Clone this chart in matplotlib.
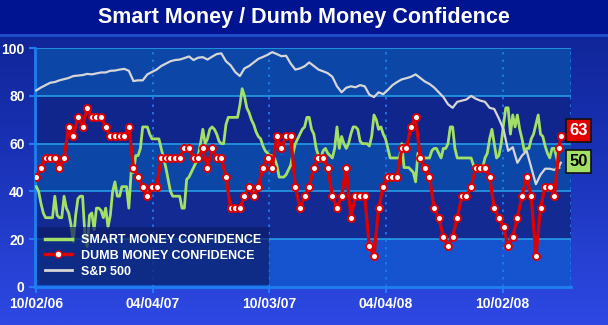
import numpy as np
import matplotlib
matplotlib.use("Agg")
import matplotlib.pyplot as plt
from matplotlib.lines import Line2D
from matplotlib.colors import LinearSegmentedColormap
from matplotlib.patches import Rectangle

plt.rcParams["font.family"] = ["Liberation Sans", "DejaVu Sans"]

# smart money confidence, sampled every half week (2.5 trading days)
smart = [
    42, 40, 35, 31, 29, 29, 29, 29, 38, 30,
    29, 29, 38, 33, 31, 26, 19, 30, 37, 38,
    38, 22, 17, 30, 31, 24, 33, 33, 32, 29,
    33, 25, 30, 40, 44, 38, 38, 42, 42, 42,
    33, 48, 48, 55, 55, 58, 67, 67, 67, 64,
    62, 62, 62, 62, 58, 54, 50, 45, 40, 38,
    38, 38, 38, 33, 33, 45, 46, 48, 50, 52,
    55, 60, 66, 60, 62, 66, 67, 66, 64, 61,
    60, 60, 68, 71, 71, 71, 71, 71, 76, 83,
    80, 75, 73, 70, 68, 65, 63, 62, 59, 57,
    56, 55, 55, 54, 51, 46, 46, 46, 47, 49,
    51, 56, 60, 62, 64, 66, 67, 71, 71, 66,
    64, 58, 55, 54, 57, 58, 56, 55, 54, 58,
    67, 58, 63, 60, 58, 60, 64, 67, 67, 66,
    61, 60, 60, 60, 59, 63, 72, 70, 66, 67,
    64, 62, 58, 54, 54, 54, 54, 54, 60, 50,
    50, 50, 49, 48, 44, 56, 54, 54, 54, 54,
    54, 57, 58, 58, 56, 54, 58, 58, 60, 67,
    67, 58, 54, 54, 54, 54, 54, 54, 54, 51,
    50, 50, 50, 50, 54, 56, 62, 66, 60, 54,
    55, 60, 68, 75, 75, 64, 72, 67, 72, 66,
    62, 57, 58, 58, 62, 64, 68, 72, 64, 63,
    59, 56, 54, 58, 58, 54, 50,
]

# dumb money confidence, weekly readings plus the latest one
dumb = [
    46, 50, 54, 54, 54, 50, 54, 67, 63, 71,
    67, 75, 71, 71, 71, 67, 63, 63, 63, 63,
    67, 50, 46, 42, 38, 42, 42, 54, 54, 54,
    54, 54, 58, 58, 54, 54, 58, 50, 58, 54,
    54, 46, 33, 33, 33, 38, 42, 38, 42, 50,
    54, 50, 63, 58, 63, 63, 42, 33, 38, 42,
    50, 54, 54, 50, 38, 33, 38, 50, 29, 38,
    38, 38, 17, 13, 33, 42, 46, 46, 46, 58,
    58, 67, 71, 54, 50, 46, 33, 29, 21, 17,
    21, 29, 38, 38, 42, 50, 50, 50, 46, 33,
    29, 25, 17, 21, 29, 38, 46, 38, 13, 33,
    42, 42, 38, 58, 63,
]

# S&P 500 rescaled to the 0-100 confidence range, same weekly dates
spx = [
    82.3, 83.5, 84.5, 85.5, 85.8, 86.5, 87.0, 87.5, 88.3, 88.5,
    88.7, 89.2, 89.0, 89.4, 89.8, 89.8, 90.5, 90.6, 91.0, 91.3,
    90.5, 86.2, 86.5, 86.5, 89.0, 90.0, 91.0, 92.5, 93.5, 94.5,
    95.0, 95.2, 95.8, 96.5, 95.0, 96.0, 96.2, 95.2, 96.4, 97.5,
    97.8, 94.5, 92.8, 90.0, 88.3, 91.5, 92.5, 94.0, 95.5, 96.3,
    97.2, 98.3, 97.5, 96.6, 96.8, 93.5, 91.0, 91.5, 92.4, 94.0,
    92.5, 91.0, 90.3, 89.5, 88.0, 84.0, 81.5, 83.4, 84.0, 83.6,
    84.5, 84.0, 80.5, 79.5, 81.5, 80.7, 82.5, 84.5, 85.8, 86.9,
    87.4, 88.0, 89.0, 87.5, 86.0, 85.0, 83.5, 81.5, 79.5, 76.5,
    75.0, 77.5, 78.0, 78.5, 80.0, 78.8, 78.0, 77.5, 75.0, 74.5,
    70.5, 66.0, 57.0, 58.5, 52.0, 55.0, 57.0, 50.0, 43.0, 47.0,
    49.5, 49.5, 49.0, 50.5, 52.0,
]

last_day = 567  # trading day of the latest reading
tick_days = [0, 126, 252, 378, 504]
tick_labels = ["10/02/06", "04/04/07", "10/03/07", "04/04/08", "10/02/08"]

week_days = np.append(np.arange(len(dumb) - 1) * 5, last_day)
smart_days = np.arange(len(smart)) * 2.5

GREEN = "#a2e066"
RED = "#e00000"
GREY = "#d6d6d6"
GRID = "#27a4ec"
AXIS = "#1f7ff0"

fig = plt.figure(figsize=(6.08, 3.25), dpi=100)

# background: navy to bright blue, with a dark title bar
bg = fig.add_axes([0, 0, 1, 1], zorder=-10)
cmap = LinearSegmentedColormap.from_list("bg", ["#2e49e4", "#1a33b8", "#0d2290"])
bg.imshow(np.linspace(0, 1, 256).reshape(-1, 1), aspect="auto", cmap=cmap,
          extent=[0, 1, 0, 1], origin="lower")
bg.add_patch(Rectangle((0, 0.892), 1, 0.108, color="#001390"))
bg.axhline(0.892, color="#1d52cc", lw=2)
bg.set_xlim(0, 1)
bg.set_ylim(0, 1)
bg.axis("off")

fig.text(0.5, 0.945, "Smart Money / Dumb Money Confidence", color="white",
         fontsize=15.5, fontweight="bold", ha="center", va="center")

ax = fig.add_axes([0.0576, 0.117, 0.8816, 0.735])
ax.set_facecolor("none")

band_colors = ["#1653cf", "#132a92", "#0c47a8", "#11268c", "#0c47a8"]
for i, c in enumerate(band_colors):
    ax.axhspan(i * 20, i * 20 + 20, color=c, lw=0, zorder=0)
for y in range(20, 101, 20):
    ax.axhline(y, color=GRID, lw=1.1, zorder=1)
for d in tick_days[1:] + [578]:
    ax.axvline(d, color=AXIS, lw=1.2, ls=(0, (1.5, 3)), zorder=1)

ax.plot(smart_days, smart, color=GREEN, lw=2, zorder=3)
ax.plot(week_days, spx, color=GREY, lw=1.6, zorder=4)
ax.plot(week_days, dumb, color=RED, lw=2.3, zorder=5, marker="o",
        markersize=5, markerfacecolor="white", markeredgecolor=RED,
        markeredgewidth=1.4)

ax.set_xlim(-1.4, 578)
ax.set_ylim(0, 100)
ax.set_yticks(range(0, 101, 20))
ax.set_xticks(tick_days)
ax.set_xticklabels(tick_labels)
ax.tick_params(colors=AXIS, labelcolor="white", labelsize=10, width=1.5,
               length=4)
for lab in ax.get_xticklabels() + ax.get_yticklabels():
    lab.set_fontweight("bold")
for s in ["top", "right"]:
    ax.spines[s].set_visible(False)
for s in ["left", "bottom"]:
    ax.spines[s].set_color(AXIS)
    ax.spines[s].set_linewidth(2)

handles = [
    Line2D([], [], color=GREEN, lw=2.5),
    Line2D([], [], color=RED, lw=2.5, marker="o", markersize=5,
           markerfacecolor="white", markeredgecolor=RED),
    Line2D([], [], color=GREY, lw=2),
]
leg = ax.legend(handles, ["SMART MONEY CONFIDENCE", "DUMB MONEY CONFIDENCE", "S&P 500"],
                loc="lower left", bbox_to_anchor=(0.004, 0.008), borderaxespad=0,
                fontsize=9, handlelength=2.2, handletextpad=0.7,
                labelspacing=0.3, borderpad=0.6, fancybox=False)
leg.get_frame().set_facecolor("#0b1c66")
leg.get_frame().set_alpha(0.7)
leg.get_frame().set_edgecolor("none")
for t in leg.get_texts():
    t.set_color("white")
    t.set_fontweight("bold")
leg.set_zorder(6)

# latest readings at the right edge
for val, face, txt in [(dumb[-1], RED, "white"), (smart[-1], GREEN, "black")]:
    ax.text(1.014, val + 2.5, f"{val:d}", transform=ax.get_yaxis_transform(),
            ha="center", va="center", color=txt, fontsize=12, fontweight="bold",
            clip_on=False, zorder=7,
            bbox=dict(boxstyle="square,pad=0.22", facecolor=face,
                      edgecolor="#111111", lw=1.2))

fig.savefig("out.png", dpi=100)
